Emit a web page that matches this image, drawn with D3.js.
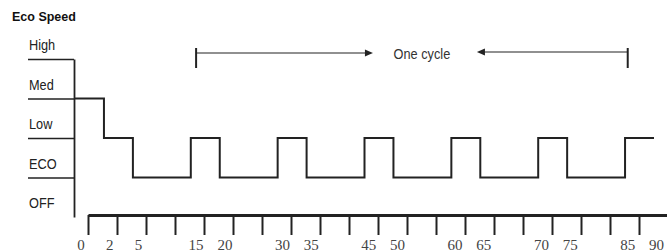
<!DOCTYPE html>
<html>
<head>
<meta charset="utf-8">
<script src="https://cdn.jsdelivr.net/npm/d3@7"></script>
<style>
  body { margin: 0; background: #fff; }
  svg { display: block; }
</style>
</head>
<body>
<svg id="chart"></svg>
<script>
// speed levels, bottom to top
const levels = ["OFF", "ECO", "Low", "Med", "High"];
// tick labels along the time axis (blank = unlabeled tick)
const tickLabels = ["0", "2", "5", "", "15", "20", "", "30", "35", "", "45", "50", "", "60", "65", "", "70", "75", "", "85", "90"];
// minutes where the speed changes, and the level held from there on
const stepMinutes = [0, 2, 5, 15, 20, 30, 35, 45, 50, 60, 65, 70, 75, 85, 90];
const stepLevels = ["Med", "Low", "ECO", "Low", "ECO", "Low", "ECO", "Low", "ECO", "Low", "ECO", "Low", "ECO", "Low", "Low"];
const cycleFrom = 15;
const cycleTo = 85;
const cycleText = "One cycle";
const title = "Eco Speed";

const width = 667, height = 252;
const ink = "#222";
const sans = "'Liberation Sans', Arial, sans-serif";
const squeeze = 0.85; // labels in the original are a condensed face

const svg = d3.select("#chart").attr("width", width).attr("height", height);

// minute -> slot on the tick axis
const slotOf = m => m === 0 ? 0 : tickLabels.indexOf(String(m));
const nSlots = tickLabels.length - 1;

const xWave = d3.scaleLinear().domain([0, nSlots]).range([75, 654]);
const xTick = d3.scaleLinear().domain([0, nSlots]).range([88, 668]);
const xLab = d3.scaleLinear().domain([0, nSlots]).range([81, 656.5]);
const y = d3.scalePoint().domain(levels).range([217, 59]);

// title
svg.append("text")
  .attr("x", 12).attr("y", 21)
  .style("font-family", sans)
  .style("font-weight", "bold")
  .style("font-size", "12.5px")
  .style("fill", "#111")
  .text(title);

// Y axis with short level lines
const yAxis = svg.append("g")
  .attr("transform", "translate(74,0)")
  .call(d3.axisLeft(y)
    .tickValues(levels.filter(d => d !== "OFF"))
    .tickSize(46)
    .tickSizeOuter(0)
    .tickFormat(""));
yAxis.select(".domain").attr("stroke", ink).attr("stroke-width", 1.8);
yAxis.selectAll(".tick line").attr("stroke", ink).attr("stroke-width", 1.6);

svg.selectAll("text.level")
  .data(levels)
  .enter()
  .append("text")
  .attr("class", "level")
  .attr("transform", d => "translate(29," + (y(d) - 9) + ") scale(" + squeeze + ",1)")
  .style("font-family", sans)
  .style("font-size", "15px")
  .style("fill", "#222")
  .text(d => d);

// X axis
const xAxis = svg.append("g")
  .attr("transform", "translate(0,215)")
  .call(d3.axisBottom(xTick)
    .tickValues(d3.range(nSlots + 1))
    .tickSize(20)
    .tickSizeOuter(0)
    .tickFormat(""));
xAxis.select(".domain").attr("stroke", ink).attr("stroke-width", 3);
xAxis.selectAll(".tick line").attr("stroke", ink).attr("stroke-width", 2);

svg.selectAll("text.tlab")
  .data(tickLabels)
  .enter()
  .append("text")
  .attr("class", "tlab")
  .attr("x", (d, i) => xLab(i))
  .attr("y", 250)
  .attr("text-anchor", "middle")
  .style("font-family", "'Liberation Serif', 'Times New Roman', serif")
  .style("font-size", "15px")
  .style("fill", "#444")
  .text(d => d);

// speed waveform
const pts = stepMinutes.map((m, i) => [slotOf(m), stepLevels[i]]);
svg.append("path")
  .datum(pts)
  .attr("fill", "none")
  .attr("stroke", ink)
  .attr("stroke-width", 2)
  .attr("d", d3.line()
    .x(d => xWave(d[0]))
    .y(d => y(d[1]))
    .curve(d3.curveStepAfter));

// "One cycle" annotation
const cx0 = xLab(slotOf(cycleFrom));
const cx1 = xLab(slotOf(cycleTo));
const mid = (cx0 + cx1) / 2;
const ann = svg.append("g").attr("stroke", ink);
ann.selectAll("line.bar")
  .data([cx0, cx1])
  .enter()
  .append("line")
  .attr("x1", d => d).attr("x2", d => d)
  .attr("y1", 48).attr("y2", 68)
  .attr("stroke-width", 2);
ann.append("line")
  .attr("x1", cx0).attr("x2", mid - 42)
  .attr("y1", 53).attr("y2", 53)
  .attr("stroke-width", 1.2);
ann.append("line")
  .attr("x1", mid + 68).attr("x2", cx1)
  .attr("y1", 52).attr("y2", 52)
  .attr("stroke-width", 1.2);
ann.append("path")
  .attr("stroke", "none").attr("fill", ink)
  .attr("d", `M${mid - 39},53 L${mid - 47},49.5 L${mid - 47},56.5 Z`);
ann.append("path")
  .attr("stroke", "none").attr("fill", ink)
  .attr("d", `M${mid + 65},52 L${mid + 73},48.5 L${mid + 73},55.5 Z`);

svg.append("text")
  .attr("text-anchor", "middle")
  .attr("transform", "translate(" + (mid + 10) + ",59) scale(" + squeeze + ",1)")
  .style("font-family", sans)
  .style("font-size", "15px")
  .style("fill", "#333")
  .text(cycleText);
</script>
</body>
</html>
